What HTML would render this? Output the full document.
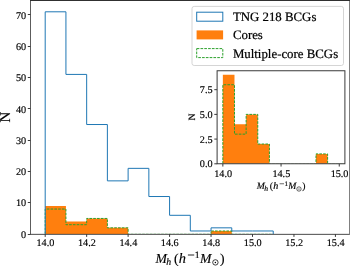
<!DOCTYPE html><html><head><meta charset="utf-8"><style>html,body{margin:0;padding:0;background:#fff;}svg{display:block;will-change:transform;}text{font-family:"Liberation Serif",serif;text-rendering:geometricPrecision;}</style></head><body>
<svg width="350" height="269" viewBox="0 0 350 269">
<rect x="0" y="0" width="350" height="269" fill="#fff"/>
<path d="M45.20,234.10 L45.20,205.92 L65.93,205.92 L65.93,221.58 L86.66,221.58 L86.66,218.44 L107.39,218.44 L107.39,227.84 L128.12,227.84 L128.12,234.10 L148.85,234.10 L148.85,234.10 L169.58,234.10 L169.58,234.10 L190.31,234.10 L190.31,234.10 L211.04,234.10 L211.04,230.97 L231.77,230.97 L231.77,234.10 L252.50,234.10 L252.50,234.10 L273.23,234.10 L273.23,234.10 Z" fill="#ff7f0e" stroke="none"/>
<clipPath id="cm"><rect x="0" y="0" width="350" height="233.55"/></clipPath><clipPath id="ci"><rect x="217.1" y="70.75" width="127.8" height="92.5"/></clipPath><clipPath id="ci2"><rect x="217.1" y="70.75" width="127.8" height="93"/></clipPath>
<path d="M45.20,234.10 L45.20,209.05 L65.93,209.05 L65.93,224.71 L86.66,224.71 L86.66,218.44 L107.39,218.44 L107.39,227.84 L128.12,227.84 L128.12,234.10 L148.85,234.10 L148.85,234.10 L169.58,234.10 L169.58,234.10 L190.31,234.10 L190.31,234.10 L211.04,234.10 L211.04,230.97 L231.77,230.97 L231.77,234.10 L252.50,234.10 L252.50,234.10 L273.23,234.10 L273.23,234.10" fill="none" stroke="#2ca02c" stroke-width="1" stroke-dasharray="2.65,1.15" clip-path="url(#cm)"/>
<path d="M45.20,234.10 L45.20,11.80 L65.93,11.80 L65.93,74.42 L86.66,74.42 L86.66,124.52 L107.39,124.52 L107.39,180.87 L128.12,180.87 L128.12,168.35 L148.85,168.35 L148.85,196.53 L169.58,196.53 L169.58,215.31 L190.31,215.31 L190.31,230.97 L211.04,230.97 L211.04,227.84 L231.77,227.84 L231.77,230.97 L252.50,230.97 L252.50,230.97 L273.23,230.97 L273.23,234.10" fill="none" stroke="#1f77b4" stroke-width="1"/>
<path d="M30.5,0 V234.3" fill="none" stroke="#5c5c5c" stroke-width="1"/>
<path d="M30,234.35 H350" fill="none" stroke="#4a4a4a" stroke-width="1"/>
<path d="M349.5,0 V234.8" fill="none" stroke="#808080" stroke-width="1"/>
<path d="M30,0.5 H350" fill="none" stroke="#303030" stroke-width="1"/>
<line x1="27.8" y1="234.50" x2="30.5" y2="234.50" stroke="#3a3a3a" stroke-width="1.0"/>
<text x="26.2" y="237.80" font-size="10.2" text-anchor="end" fill="#000" stroke="#000" stroke-width="0.16">0</text>
<line x1="27.8" y1="202.50" x2="30.5" y2="202.50" stroke="#3a3a3a" stroke-width="1.0"/>
<text x="26.2" y="206.49" font-size="10.2" text-anchor="end" fill="#000" stroke="#000" stroke-width="0.16">10</text>
<line x1="27.8" y1="171.50" x2="30.5" y2="171.50" stroke="#3a3a3a" stroke-width="1.0"/>
<text x="26.2" y="175.18" font-size="10.2" text-anchor="end" fill="#000" stroke="#000" stroke-width="0.16">20</text>
<line x1="27.8" y1="140.50" x2="30.5" y2="140.50" stroke="#3a3a3a" stroke-width="1.0"/>
<text x="26.2" y="143.87" font-size="10.2" text-anchor="end" fill="#000" stroke="#000" stroke-width="0.16">30</text>
<line x1="27.8" y1="108.50" x2="30.5" y2="108.50" stroke="#3a3a3a" stroke-width="1.0"/>
<text x="26.2" y="112.56" font-size="10.2" text-anchor="end" fill="#000" stroke="#000" stroke-width="0.16">40</text>
<line x1="27.8" y1="77.50" x2="30.5" y2="77.50" stroke="#3a3a3a" stroke-width="1.0"/>
<text x="26.2" y="81.25" font-size="10.2" text-anchor="end" fill="#000" stroke="#000" stroke-width="0.16">50</text>
<line x1="27.8" y1="46.50" x2="30.5" y2="46.50" stroke="#3a3a3a" stroke-width="1.0"/>
<text x="26.2" y="49.94" font-size="10.2" text-anchor="end" fill="#000" stroke="#000" stroke-width="0.16">60</text>
<line x1="27.8" y1="14.50" x2="30.5" y2="14.50" stroke="#3a3a3a" stroke-width="1.0"/>
<text x="26.2" y="18.63" font-size="10.2" text-anchor="end" fill="#000" stroke="#000" stroke-width="0.16">70</text>
<line x1="45.20" y1="234.1" x2="45.20" y2="236.9" stroke="#3a3a3a" stroke-width="1.0"/>
<text x="45.40" y="246.4" font-size="10.2" text-anchor="middle" fill="#000" stroke="#000" stroke-width="0.16">14.0</text>
<line x1="86.66" y1="234.1" x2="86.66" y2="236.9" stroke="#3a3a3a" stroke-width="1.0"/>
<text x="86.86" y="246.4" font-size="10.2" text-anchor="middle" fill="#000" stroke="#000" stroke-width="0.16">14.2</text>
<line x1="128.12" y1="234.1" x2="128.12" y2="236.9" stroke="#3a3a3a" stroke-width="1.0"/>
<text x="128.32" y="246.4" font-size="10.2" text-anchor="middle" fill="#000" stroke="#000" stroke-width="0.16">14.4</text>
<line x1="169.58" y1="234.1" x2="169.58" y2="236.9" stroke="#3a3a3a" stroke-width="1.0"/>
<text x="169.78" y="246.4" font-size="10.2" text-anchor="middle" fill="#000" stroke="#000" stroke-width="0.16">14.6</text>
<line x1="211.04" y1="234.1" x2="211.04" y2="236.9" stroke="#3a3a3a" stroke-width="1.0"/>
<text x="211.24" y="246.4" font-size="10.2" text-anchor="middle" fill="#000" stroke="#000" stroke-width="0.16">14.8</text>
<line x1="252.50" y1="234.1" x2="252.50" y2="236.9" stroke="#3a3a3a" stroke-width="1.0"/>
<text x="252.70" y="246.4" font-size="10.2" text-anchor="middle" fill="#000" stroke="#000" stroke-width="0.16">15.0</text>
<line x1="293.96" y1="234.1" x2="293.96" y2="236.9" stroke="#3a3a3a" stroke-width="1.0"/>
<text x="294.16" y="246.4" font-size="10.2" text-anchor="middle" fill="#000" stroke="#000" stroke-width="0.16">15.2</text>
<line x1="335.42" y1="234.1" x2="335.42" y2="236.9" stroke="#3a3a3a" stroke-width="1.0"/>
<text x="335.62" y="246.4" font-size="10.2" text-anchor="middle" fill="#000" stroke="#000" stroke-width="0.16">15.4</text>
<text transform="translate(9.9,117.2) rotate(-90)" font-size="15" text-anchor="middle" fill="#000" stroke="#000" stroke-width="0.16">N</text>
<text x="155.50" y="262.70" font-size="13.70" font-style="italic" fill="#000" stroke="#000" stroke-width="0.16">M</text>
<text x="166.20" y="264.80" font-size="9.80" font-style="italic" fill="#000" stroke="#000" stroke-width="0.16">h</text>
<text x="174.00" y="262.70" font-size="13.70" fill="#000" stroke="#000" stroke-width="0.16">(</text>
<text x="178.85" y="262.70" font-size="14.38" font-style="italic" fill="#000" stroke="#000" stroke-width="0.16">h</text>
<line x1="187.90" y1="255.00" x2="194.20" y2="255.00" stroke="#000" stroke-width="0.85"/>
<text x="194.70" y="257.80" font-size="9.80" fill="#000" stroke="#000" stroke-width="0.16">1</text>
<text x="200.10" y="262.70" font-size="13.70" font-style="italic" fill="#000" stroke="#000" stroke-width="0.16">M</text>
<circle cx="215.40" cy="262.40" r="2.70" fill="none" stroke="#000" stroke-width="0.75"/>
<circle cx="215.40" cy="262.40" r="0.75" fill="#000"/>
<text x="219.90" y="262.70" font-size="13.70" fill="#000" stroke="#000" stroke-width="0.16">)</text>
<rect x="192.0" y="6.4" width="151.5" height="59.1" rx="2.2" ry="2.2" fill="#fff" fill-opacity="0.8" stroke="#d0d0d0" stroke-width="0.9"/>
<rect x="196.7" y="12.2" width="26.1" height="9.0" fill="none" stroke="#1f77b4" stroke-width="1"/>
<rect x="196.6" y="30.4" width="26.5" height="9.0" fill="#ff7f0e"/>
<rect x="196.7" y="48.6" width="26.1" height="9.0" fill="none" stroke="#2ca02c" stroke-width="1" stroke-dasharray="2.65,1.15"/>
<text x="232.9" y="21.0" font-size="12.85" fill="#000" stroke="#000" stroke-width="0.22">TNG 218 BCGs</text>
<text x="232.9" y="39.3" font-size="12.85" fill="#000" stroke="#000" stroke-width="0.22">Cores</text>
<text x="232.9" y="57.5" font-size="12.85" fill="#000" stroke="#000" stroke-width="0.22">Multiple-core BCGs</text>
<rect x="217.1" y="70.75" width="127.80" height="93.00" fill="#fff"/>
<path d="M222.85,163.80 L222.85,74.85 L234.49,74.85 L234.49,124.27 L246.13,124.27 L246.13,114.39 L257.77,114.39 L257.77,144.03 L269.41,144.03 L269.41,163.80 L281.05,163.80 L281.05,163.80 L292.69,163.80 L292.69,163.80 L304.33,163.80 L304.33,163.80 L315.97,163.80 L315.97,153.92 L327.61,153.92 L327.61,163.80 L339.25,163.80 L339.25,163.80 L350.89,163.80 L350.89,163.80 Z" fill="#ff7f0e" stroke="none" clip-path="url(#ci2)"/>
<path d="M222.85,163.80 L222.85,84.74 L234.49,84.74 L234.49,134.15 L246.13,134.15 L246.13,114.39 L257.77,114.39 L257.77,144.03 L269.41,144.03 L269.41,163.80 L281.05,163.80 L281.05,163.80 L292.69,163.80 L292.69,163.80 L304.33,163.80 L304.33,163.80 L315.97,163.80 L315.97,153.92 L327.61,153.92 L327.61,163.80 L339.25,163.80 L339.25,163.80 L350.89,163.80 L350.89,163.80" fill="none" stroke="#2ca02c" stroke-width="1" stroke-dasharray="2.65,1.15" clip-path="url(#ci)"/>
<rect x="217.1" y="70.75" width="127.80" height="93.00" fill="none" stroke="#3a3a3a" stroke-width="1.0"/>
<line x1="214.30" y1="163.80" x2="217.10" y2="163.80" stroke="#3a3a3a" stroke-width="1.0"/>
<text x="212.6" y="167.40" font-size="10.2" text-anchor="end" fill="#000" stroke="#000" stroke-width="0.16">0.0</text>
<line x1="214.30" y1="139.09" x2="217.10" y2="139.09" stroke="#3a3a3a" stroke-width="1.0"/>
<text x="212.6" y="142.69" font-size="10.2" text-anchor="end" fill="#000" stroke="#000" stroke-width="0.16">2.5</text>
<line x1="214.30" y1="114.39" x2="217.10" y2="114.39" stroke="#3a3a3a" stroke-width="1.0"/>
<text x="212.6" y="117.99" font-size="10.2" text-anchor="end" fill="#000" stroke="#000" stroke-width="0.16">5.0</text>
<line x1="214.30" y1="89.68" x2="217.10" y2="89.68" stroke="#3a3a3a" stroke-width="1.0"/>
<text x="212.6" y="93.28" font-size="10.2" text-anchor="end" fill="#000" stroke="#000" stroke-width="0.16">7.5</text>
<line x1="222.85" y1="163.75" x2="222.85" y2="166.55" stroke="#3a3a3a" stroke-width="1.0"/>
<text x="223.15" y="176.5" font-size="10.2" text-anchor="middle" fill="#000" stroke="#000" stroke-width="0.16">14.0</text>
<line x1="281.05" y1="163.75" x2="281.05" y2="166.55" stroke="#3a3a3a" stroke-width="1.0"/>
<text x="281.35" y="176.5" font-size="10.2" text-anchor="middle" fill="#000" stroke="#000" stroke-width="0.16">14.5</text>
<line x1="339.25" y1="163.75" x2="339.25" y2="166.55" stroke="#3a3a3a" stroke-width="1.0"/>
<text x="339.55" y="176.5" font-size="10.2" text-anchor="middle" fill="#000" stroke="#000" stroke-width="0.16">15.0</text>
<text transform="translate(195.0,117.0) rotate(-90)" font-size="9.6" text-anchor="middle" fill="#000" stroke="#000" stroke-width="0.16">N</text>
<text x="256.70" y="189.20" font-size="9.66" font-style="italic" fill="#000" stroke="#000" stroke-width="0.16">M</text>
<text x="264.27" y="190.89" font-size="7.60" font-style="italic" fill="#000" stroke="#000" stroke-width="0.16">h</text>
<text x="269.81" y="189.20" font-size="9.66" fill="#000" stroke="#000" stroke-width="0.16">(</text>
<text x="273.21" y="189.20" font-size="10.14" font-style="italic" fill="#000" stroke="#000" stroke-width="0.16">h</text>
<line x1="279.58" y1="183.77" x2="284.02" y2="183.77" stroke="#000" stroke-width="0.60"/>
<text x="284.41" y="185.75" font-size="6.91" fill="#000" stroke="#000" stroke-width="0.16">1</text>
<text x="288.14" y="189.20" font-size="9.66" font-style="italic" fill="#000" stroke="#000" stroke-width="0.16">M</text>
<circle cx="298.97" cy="188.99" r="2.19" fill="none" stroke="#000" stroke-width="0.61"/>
<circle cx="298.97" cy="188.99" r="0.61" fill="#000"/>
<text x="302.14" y="189.20" font-size="9.66" fill="#000" stroke="#000" stroke-width="0.16">)</text>
</svg></body></html>
